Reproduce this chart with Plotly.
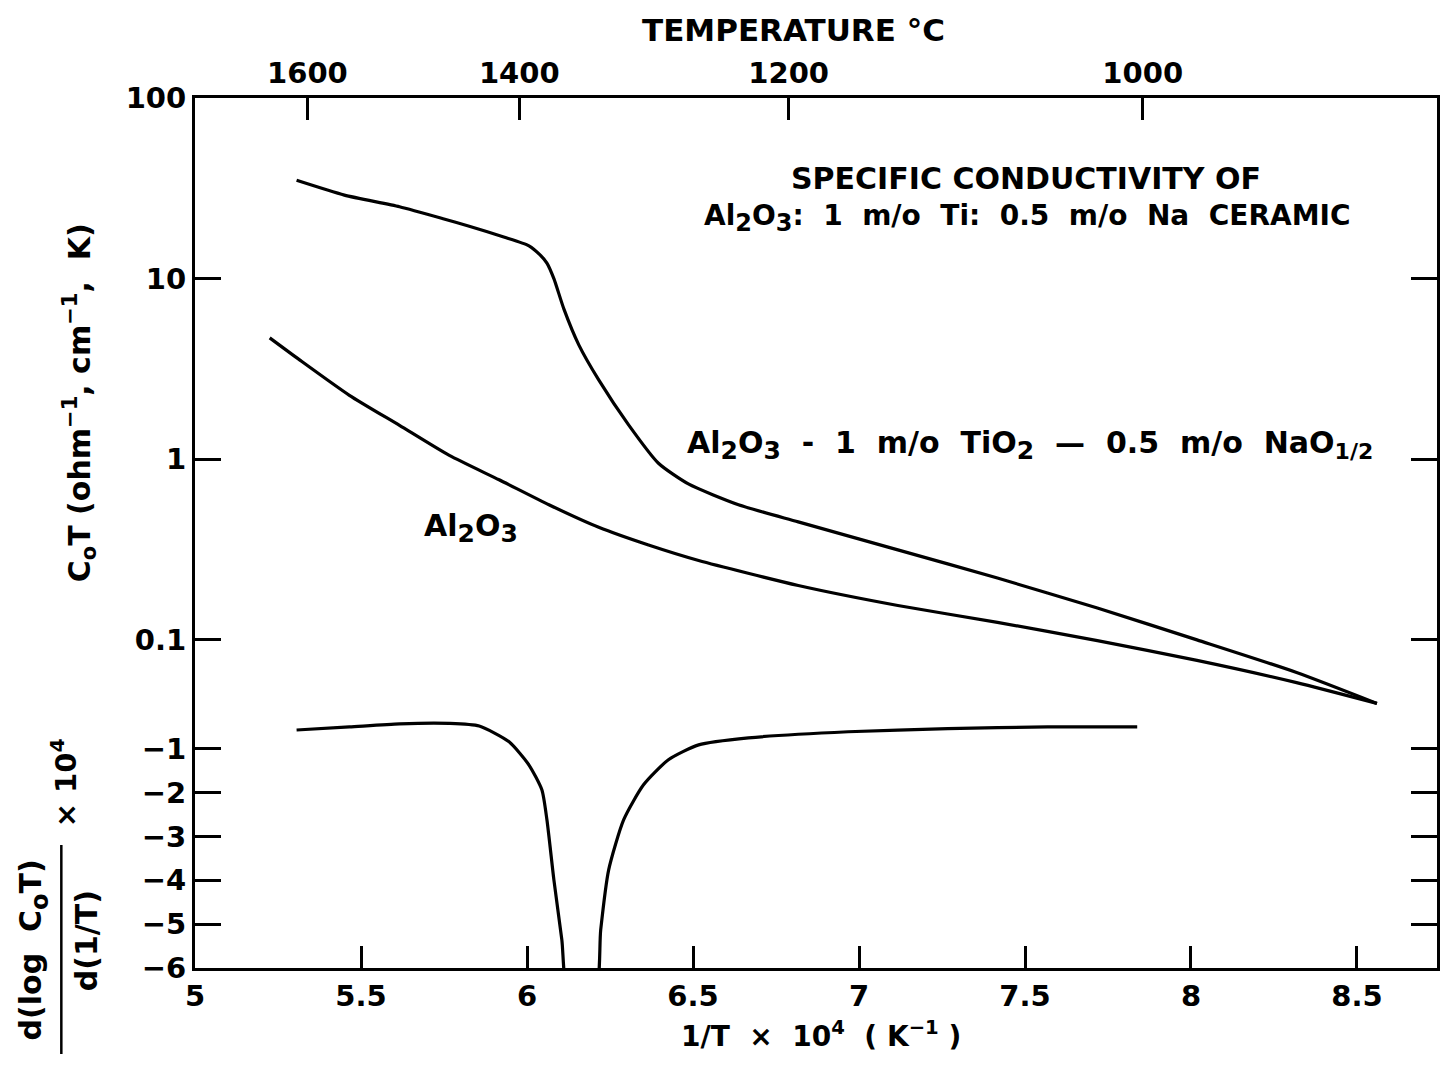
import plotly.graph_objects as go

# ---------------- data ----------------
ti_x = [5.306, 5.45, 5.616, 5.75, 5.826, 5.93, 6.006, 6.04, 6.06, 6.081, 6.111, 6.156,
        6.216, 6.306, 6.396, 6.486, 6.637, 6.817, 7.117, 7.417, 7.718, 8.018, 8.318, 8.56]
ti_y = [35, 29, 25, 21.4, 19.5, 17.0, 15.2, 13.5, 12.2, 10.0, 6.8, 4.3,
        2.75, 1.55, 0.95, 0.73, 0.56, 0.45, 0.315, 0.22, 0.15, 0.1, 0.066, 0.0445]

al_x = [5.225, 5.315, 5.465, 5.616, 5.766, 5.916, 6.066, 6.216, 6.366, 6.517,
        6.817, 7.117, 7.417, 7.718, 8.018, 8.318, 8.56]
al_y = [4.7, 3.55, 2.26, 1.54, 1.05, 0.77, 0.56, 0.42, 0.335, 0.275,
        0.2, 0.155, 0.125, 0.099, 0.077, 0.058, 0.0445]

d_x = [5.306, 5.465, 5.616, 5.766, 5.856, 5.946, 6.006, 6.045, 6.06, 6.081, 6.105, 6.125,
       6.205, 6.222, 6.246, 6.291, 6.351, 6.426, 6.517, 6.667, 6.967, 7.267, 7.568, 7.838]
d_y = [-0.57, -0.5, -0.43, -0.42, -0.48, -0.84, -1.37, -1.94, -2.62, -3.99, -5.36, -6.6,
       -6.6, -5.13, -3.76, -2.62, -1.82, -1.25, -0.91, -0.75, -0.61, -0.54, -0.50, -0.50]

x_ticks = [5, 5.5, 6, 6.5, 7, 7.5, 8, 8.5]
x_ticktext = ["5", "5.5", "6", "6.5", "7", "7.5", "8", "8.5"]
temps_c = [1600, 1400, 1200, 1000]
y_ticks = [0.0436, 0.1, 1, 10, 100]
y_ticktext = ["", "0.1", "1", "10", "100"]
y2_ticks = [0, -1, -2, -3, -4, -5, -6]
y2_ticktext = ["", "\u22121", "\u22122", "\u22123", "\u22124", "\u22125", "\u22126"]

# ---------------- layout geometry (page pixels; page body has an 8px margin) ----------------
OFF = 8
PL, PR, PT, PB = 195, 1440, 98, 968       # plot area in page pixels
PW, PH = PR - PL, PB - PT
W, H = 1449 - 2 * OFF, 1066 - 2 * OFF     # avoid scrollbars
L, T = PL - OFF, PT - OFF
R, B = W - L - PW, H - T - PH
split = (968 - 705) / PH
PX_PER_UNIT = 332.8
XR = [5, 5 + PW / PX_PER_UNIT]

def px(x):
    return (x - PL) / PW

def py(y):
    return (PB - y) / PH

FONT = "DejaVu Sans, Verdana, sans-serif"
tickfont = dict(family=FONT, size=29, color="black", weight="bold")

def sub(s, size=25):
    return '<sub><span style="font-size:%dpx">%s</span></sub>' % (size, s)

fig = go.Figure()
line = dict(color="black", width=3.2, shape="spline", smoothing=0.6)
fig.add_trace(go.Scatter(x=ti_x, y=ti_y, mode="lines", line=line, xaxis="x", yaxis="y",
                         showlegend=False, hoverinfo="skip"))
fig.add_trace(go.Scatter(x=al_x, y=al_y, mode="lines", line=line, xaxis="x", yaxis="y",
                         showlegend=False, hoverinfo="skip"))
fig.add_trace(go.Scatter(x=d_x, y=d_y, mode="lines", line=line, xaxis="x", yaxis="y2",
                         showlegend=False, hoverinfo="skip"))
# invisible trace to activate top temperature axis
fig.add_trace(go.Scatter(x=ti_x, y=ti_y, mode="lines", line=dict(width=0, color="rgba(0,0,0,0)"),
                         xaxis="x2", yaxis="y", showlegend=False, hoverinfo="skip"))

temp_pos = [1e4 / (t + 273.15) for t in temps_c]

axis_common = dict(showline=True, linecolor="black", linewidth=3, ticks="inside",
                   tickcolor="black", tickwidth=3, showgrid=False, zeroline=False,
                   tickfont=tickfont)

fig.update_layout(
    width=W, height=H,
    margin=dict(l=L, r=R, t=T, b=B),
    paper_bgcolor="white", plot_bgcolor="white",
    xaxis=dict(range=XR, domain=[0, 1], anchor="y2", tickvals=x_ticks, ticktext=x_ticktext,
               ticklen=22, mirror=False, **axis_common),
    xaxis2=dict(range=XR, overlaying="x", anchor="y", side="top", tickvals=temp_pos,
                ticktext=[str(t) for t in temps_c], ticklen=22, mirror=False, **axis_common),
    yaxis=dict(type="log", range=[-1.3605, 2], domain=[split, 1], anchor="x",
               tickvals=y_ticks, ticktext=y_ticktext, ticklen=26, mirror="ticks", **axis_common),
    yaxis2=dict(range=[-6, 0], domain=[0, split], anchor="x",
                tickvals=y2_ticks, ticktext=y2_ticktext, ticklen=26, mirror="ticks", **axis_common),
)

def ann(text, x, y, size=29, angle=0, xanchor="center", yanchor="middle"):
    fig.add_annotation(text=text, x=px(x), y=py(y), xref="paper", yref="paper",
                       showarrow=False, textangle=angle, xanchor=xanchor, yanchor=yanchor,
                       font=dict(family=FONT, size=size, color="black", weight="bold"))

ann("TEMPERATURE \u00b0C", 795, 30, size=31)
ann("1/T  \u00d7  10<sup>4</sup>  ( K<sup>\u22121</sup> )", 823, 1034, size=28)
ann("SPECIFIC CONDUCTIVITY OF", 1028, 179, size=30)
ann("Al" + sub("2", 24) + "O" + sub("3", 24) + ":  1  m/o  Ti:  0.5  m/o  Na  CERAMIC", 1030, 218, size=28)
ann("Al" + sub("2") + "O" + sub("3") + "  -  1  m/o  TiO" + sub("2") + "  \u2014  0.5  m/o  NaO"
    + sub("1/2", 22), 686, 445, size=30, xanchor="left")
ann("Al" + sub("2") + "O" + sub("3"), 472, 528, size=30)
ann("C<sub>o</sub>T (ohm<sup>\u22121</sup>, cm<sup>\u22121</sup>,  K)", 80, 403, size=30, angle=-90)
ann("d(log  C" + sub("o", 24) + "T)", 33, 950, size=30, angle=-90)
ann("d(1/T)", 86, 941, size=30, angle=-90)
ann("\u00d7 10<sup>4</sup>", 64, 783, size=29, angle=-90)
fig.add_shape(type="line", xref="paper", yref="paper", x0=px(61), x1=px(61), y0=py(845), y1=py(1054),
              line=dict(color="black", width=2.5))

fig.write_html("out.html")
